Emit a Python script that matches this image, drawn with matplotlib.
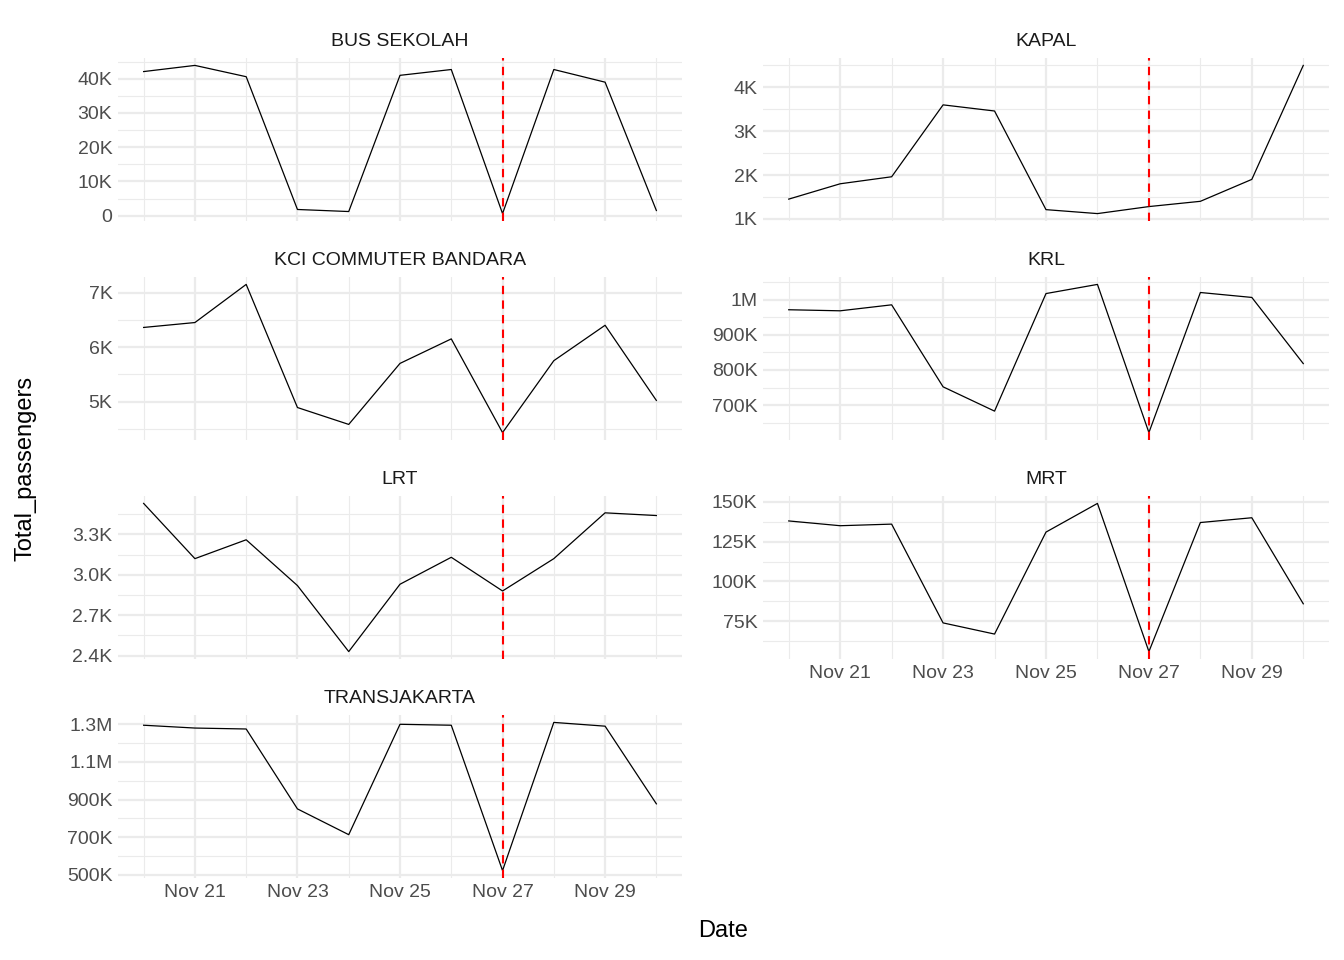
import matplotlib
matplotlib.use("Agg")
import matplotlib.pyplot as plt
import numpy as np
from matplotlib.ticker import FixedLocator

plt.rcParams['font.family'] = ['Liberation Sans', 'DejaVu Sans']

days = list(range(20, 31))
x_labels = ["Nov 21", "Nov 23", "Nov 25", "Nov 27", "Nov 29"]
x_major = [21, 23, 25, 27, 29]
event_day = 27

bus_sekolah = [42100, 43900, 40600, 1800, 1200, 41000, 42700, 600, 42700, 39000, 1500]
kapal = [1450, 1800, 1960, 3600, 3460, 1210, 1120, 1280, 1400, 1900, 4500]
kci = [6360, 6450, 7150, 4890, 4580, 5700, 6150, 4430, 5750, 6400, 5020]
krl = [971e3, 968e3, 985e3, 752e3, 683e3, 1017e3, 1043e3, 622e3, 1020e3, 1006e3, 818e3]
lrt = [3530, 3120, 3260, 2920, 2430, 2930, 3130, 2880, 3120, 3460, 3440]
mrt = [138e3, 135e3, 136e3, 74e3, 67e3, 131e3, 149e3, 56e3, 137e3, 140e3, 86e3]
tj = [1295e3, 1280e3, 1275e3, 850e3, 713e3, 1300e3, 1295e3, 522e3, 1310e3, 1290e3, 877e3]

panels = [
    ("BUS SEKOLAH", bus_sekolah, [0, 10e3, 20e3, 30e3, 40e3], ["0", "10K", "20K", "30K", "40K"]),
    ("KAPAL", kapal, [1e3, 2e3, 3e3, 4e3], ["1K", "2K", "3K", "4K"]),
    ("KCI COMMUTER BANDARA", kci, [5e3, 6e3, 7e3], ["5K", "6K", "7K"]),
    ("KRL", krl, [700e3, 800e3, 900e3, 1e6], ["700K", "800K", "900K", "1M"]),
    ("LRT", lrt, [2400, 2700, 3000, 3300], ["2.4K", "2.7K", "3.0K", "3.3K"]),
    ("MRT", mrt, [75e3, 100e3, 125e3, 150e3], ["75K", "100K", "125K", "150K"]),
    ("TRANSJAKARTA", tj, [500e3, 700e3, 900e3, 1.1e6, 1.3e6], ["500K", "700K", "900K", "1.1M", "1.3M"]),
]

W, H = 1344, 960
fig = plt.figure(figsize=(W / 100, H / 100), dpi=100)
cols = [(118, 682), (763, 1329)]
rows = [(58, 221), (277, 440), (496, 659), (715, 878)]
grid_c = "#ebebeb"
txt_c = "#4d4d4d"

for i, (name, vals, yt, ylab) in enumerate(panels):
    r, c = divmod(i, 2)
    x0, x1 = cols[c]
    y0, y1 = rows[r]
    ax = fig.add_axes([x0 / W, 1 - y1 / H, (x1 - x0) / W, (y1 - y0) / H])
    ax.plot(days, vals, color="black", lw=0.9)
    ax.axvline(event_day, color="red", ls=(0, (4, 3)), lw=1.5)
    ax.set_xlim(19.5, 30.5)
    lo, hi = min(vals), max(vals)
    ax.set_ylim(lo - 0.05 * (hi - lo), hi + 0.05 * (hi - lo))
    ax.xaxis.set_major_locator(FixedLocator(x_major))
    ax.xaxis.set_minor_locator(FixedLocator([20, 22, 24, 26, 28, 30]))
    ax.yaxis.set_major_locator(FixedLocator(yt))
    step = yt[1] - yt[0]
    ax.yaxis.set_minor_locator(FixedLocator(list(np.arange(yt[0] - step / 2, yt[-1] + step, step))))
    ax.set_yticklabels(ylab)
    ax.grid(which="major", color=grid_c, lw=1.6)
    ax.grid(which="minor", color=grid_c, lw=0.8)
    ax.set_axisbelow(True)
    for s in ax.spines.values():
        s.set_visible(False)
    ax.tick_params(which="both", length=0, labelsize=14, colors=txt_c, pad=4)
    if i >= 5:
        ax.set_xticklabels(x_labels)
    else:
        ax.set_xticklabels([])
    ax.text(0.5, 1.05, name, transform=ax.transAxes, ha="center", va="bottom",
            fontsize=14, color="#1a1a1a")

fig.text(723 / W, 1 - 931 / H, "Date", ha="center", va="center", fontsize=17)
fig.text(26 / W, 1 - 468 / H, "Total_passengers", ha="center", va="center",
         rotation=90, fontsize=17)
fig.savefig("out.png", dpi=100, facecolor="white")
